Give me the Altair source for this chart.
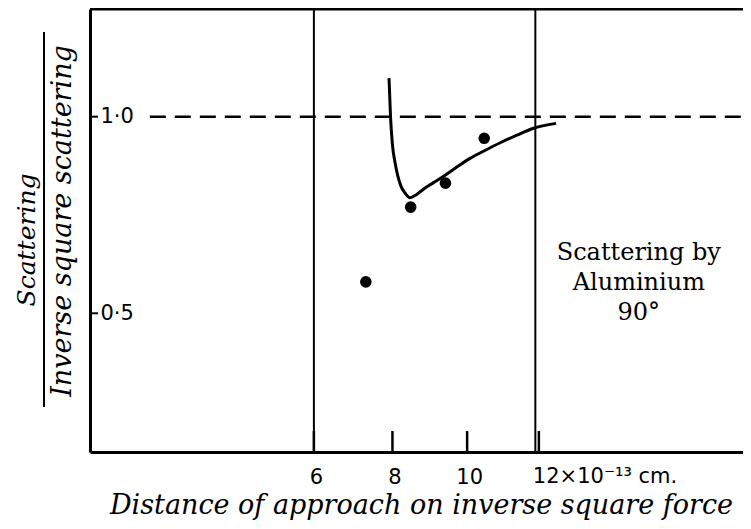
import altair as alt
import pandas as pd

# ---- data ----
point_x = [7.31, 8.48, 9.41, 10.47]
point_y = [0.580, 0.770, 0.831, 0.945]

curve_x = [7.91, 7.95, 8.00, 8.07, 8.22, 8.33, 8.46, 8.62, 8.81, 9.07,
           9.34, 9.69, 10.08, 10.49, 10.90, 11.38, 11.83, 12.49]
curve_y = [1.098, 0.999, 0.928, 0.882, 0.824, 0.806, 0.794, 0.801, 0.815, 0.831,
           0.847, 0.870, 0.894, 0.914, 0.933, 0.953, 0.970, 0.983]

x_ticks = [6, 8, 10, 12]
x_tick_labels = ["6", "8", "10", "12×10⁻¹³ cm."]
y_ticks = [0.5, 1.0]
vertical_lines = [6, 11.9]
reference_level = 1.0
reference_start = 2.27

x_domain = [1.127, 18.05]
y_domain = [0.1473, 1.2738]

annotation_text = "Scattering by\nAluminium\n90°"
annotation_pos = (14.9, 0.653)
y_title_num = "Scattering"
y_title_den = "Inverse square scattering"
x_title = "Distance of approach on inverse square force"

W, H = 653, 443

xs = alt.Scale(type="pow", exponent=0.8, domain=x_domain, zero=False, nice=False)
ys = alt.Scale(domain=y_domain, zero=False, nice=False)

axis_vals = x_ticks[:-1]
label_expr = " : ".join(
    f"datum.value == {v} ? '{t}'" for v, t in zip(axis_vals, x_tick_labels[:-1])
) + " : datum.label"

x_axis = alt.Axis(
    values=axis_vals, ticks=False, grid=False,
    domainWidth=3, domainColor="black",
    labelExpr=label_expr, labelFont="DejaVu Sans", labelFontSize=21,
    labelColor="black", labelBaseline="alphabetic", labelPadding=31,
    labelAlign="center", labelOffset=2,
    title=x_title, titleFont="DejaVu Serif", titleFontStyle="italic",
    titleFontWeight="normal", titleFontSize=27, titleColor="black",
    titleX=331, titleY=61, titleBaseline="alphabetic",
)
y_axis = alt.Axis(
    values=y_ticks, ticks=False, grid=False,
    domainWidth=3, domainColor="black",
    labelExpr="replace(format(datum.value, '.1f'), '.', '·')",
    labelFont="DejaVu Sans", labelFontSize=21, labelColor="black",
    labelAlign="left", labelPadding=-10, labelBaseline="middle",
    title="",
)

pts = pd.DataFrame({"d": point_x, "v": point_y})
crv = pd.DataFrame({"d": curve_x, "v": curve_y})
xt = pd.DataFrame({"d": x_ticks})
yt = pd.DataFrame({"v": y_ticks})
vl = pd.DataFrame({"d": vertical_lines})
last_lab = pd.DataFrame({"d": [x_ticks[-1]], "t": [x_tick_labels[-1]]})
refdf = pd.DataFrame({"d": [reference_start], "d2": [x_domain[1]], "v": [reference_level]})
anndf = pd.DataFrame({"d": [annotation_pos[0]], "v": [annotation_pos[1]], "t": [annotation_text]})
one = pd.DataFrame({"k": [0]})

base_x = alt.X("d:Q", scale=xs, axis=x_axis)
base_y = alt.Y("v:Q", scale=ys, axis=y_axis)

points = alt.Chart(pts).mark_circle(size=135, color="black", opacity=1).encode(
    x=base_x, y=base_y,
)
curve = alt.Chart(crv).mark_line(interpolate="monotone", strokeWidth=3, color="black").encode(
    x=base_x, y=base_y,
)
vlines = alt.Chart(vl).mark_rule(strokeWidth=2, color="black").encode(
    x=base_x, y=alt.value(0), y2=alt.value(H),
)
xticks = alt.Chart(xt).mark_rule(strokeWidth=2.5, color="black").encode(
    x=base_x, y=alt.value(H), y2=alt.value(H - 21),
)
lastlabel = alt.Chart(last_lab).mark_text(
    font="DejaVu Sans", fontSize=21, align="left", baseline="alphabetic",
    dx=-6, color="black",
).encode(x=base_x, y=alt.value(H + 31), text="t:N")
yticks = alt.Chart(yt).mark_rule(strokeWidth=2, color="black").encode(
    y=base_y, x=alt.value(0), x2=alt.value(8),
)
ref = alt.Chart(refdf).mark_rule(strokeWidth=2.5, color="black", strokeDash=[16, 9]).encode(
    x=base_x, x2="d2:Q", y=base_y,
)
top_frame = alt.Chart(one).mark_rule(strokeWidth=3, color="black").encode(
    x=alt.value(0), x2=alt.value(W), y=alt.value(0),
)
annot = alt.Chart(anndf).mark_text(
    font="DejaVu Serif", fontSize=24, lineHeight=30, lineBreak="\n",
    align="center", baseline="middle", color="black",
).encode(x=base_x, y=base_y, text="t:N")
ynum = alt.Chart(one).mark_text(
    font="DejaVu Serif", fontStyle="italic", fontSize=25, angle=270,
    align="center", baseline="middle", color="black", text=y_title_num,
).encode(x=alt.value(-63), y=alt.value(231))
yden = alt.Chart(one).mark_text(
    font="DejaVu Serif", fontStyle="italic", fontSize=27, angle=270,
    align="center", baseline="middle", color="black", text=y_title_den,
).encode(x=alt.value(-27), y=alt.value(212))
ybar = alt.Chart(one).mark_rule(strokeWidth=2, color="black").encode(
    x=alt.value(-46), y=alt.value(23), y2=alt.value(398),
)

chart = alt.layer(
    points, curve, vlines, xticks, lastlabel, yticks, ref, top_frame, annot, ynum, yden, ybar
).properties(
    width=W, height=H,
    autosize=alt.AutoSizeParams(type="none"),
    padding={"left": 82, "top": 1, "right": 0, "bottom": 69},
    background="white",
).configure_view(stroke=None)

chart.save("out.html", embed_options={"renderer": "svg", "actions": False})
